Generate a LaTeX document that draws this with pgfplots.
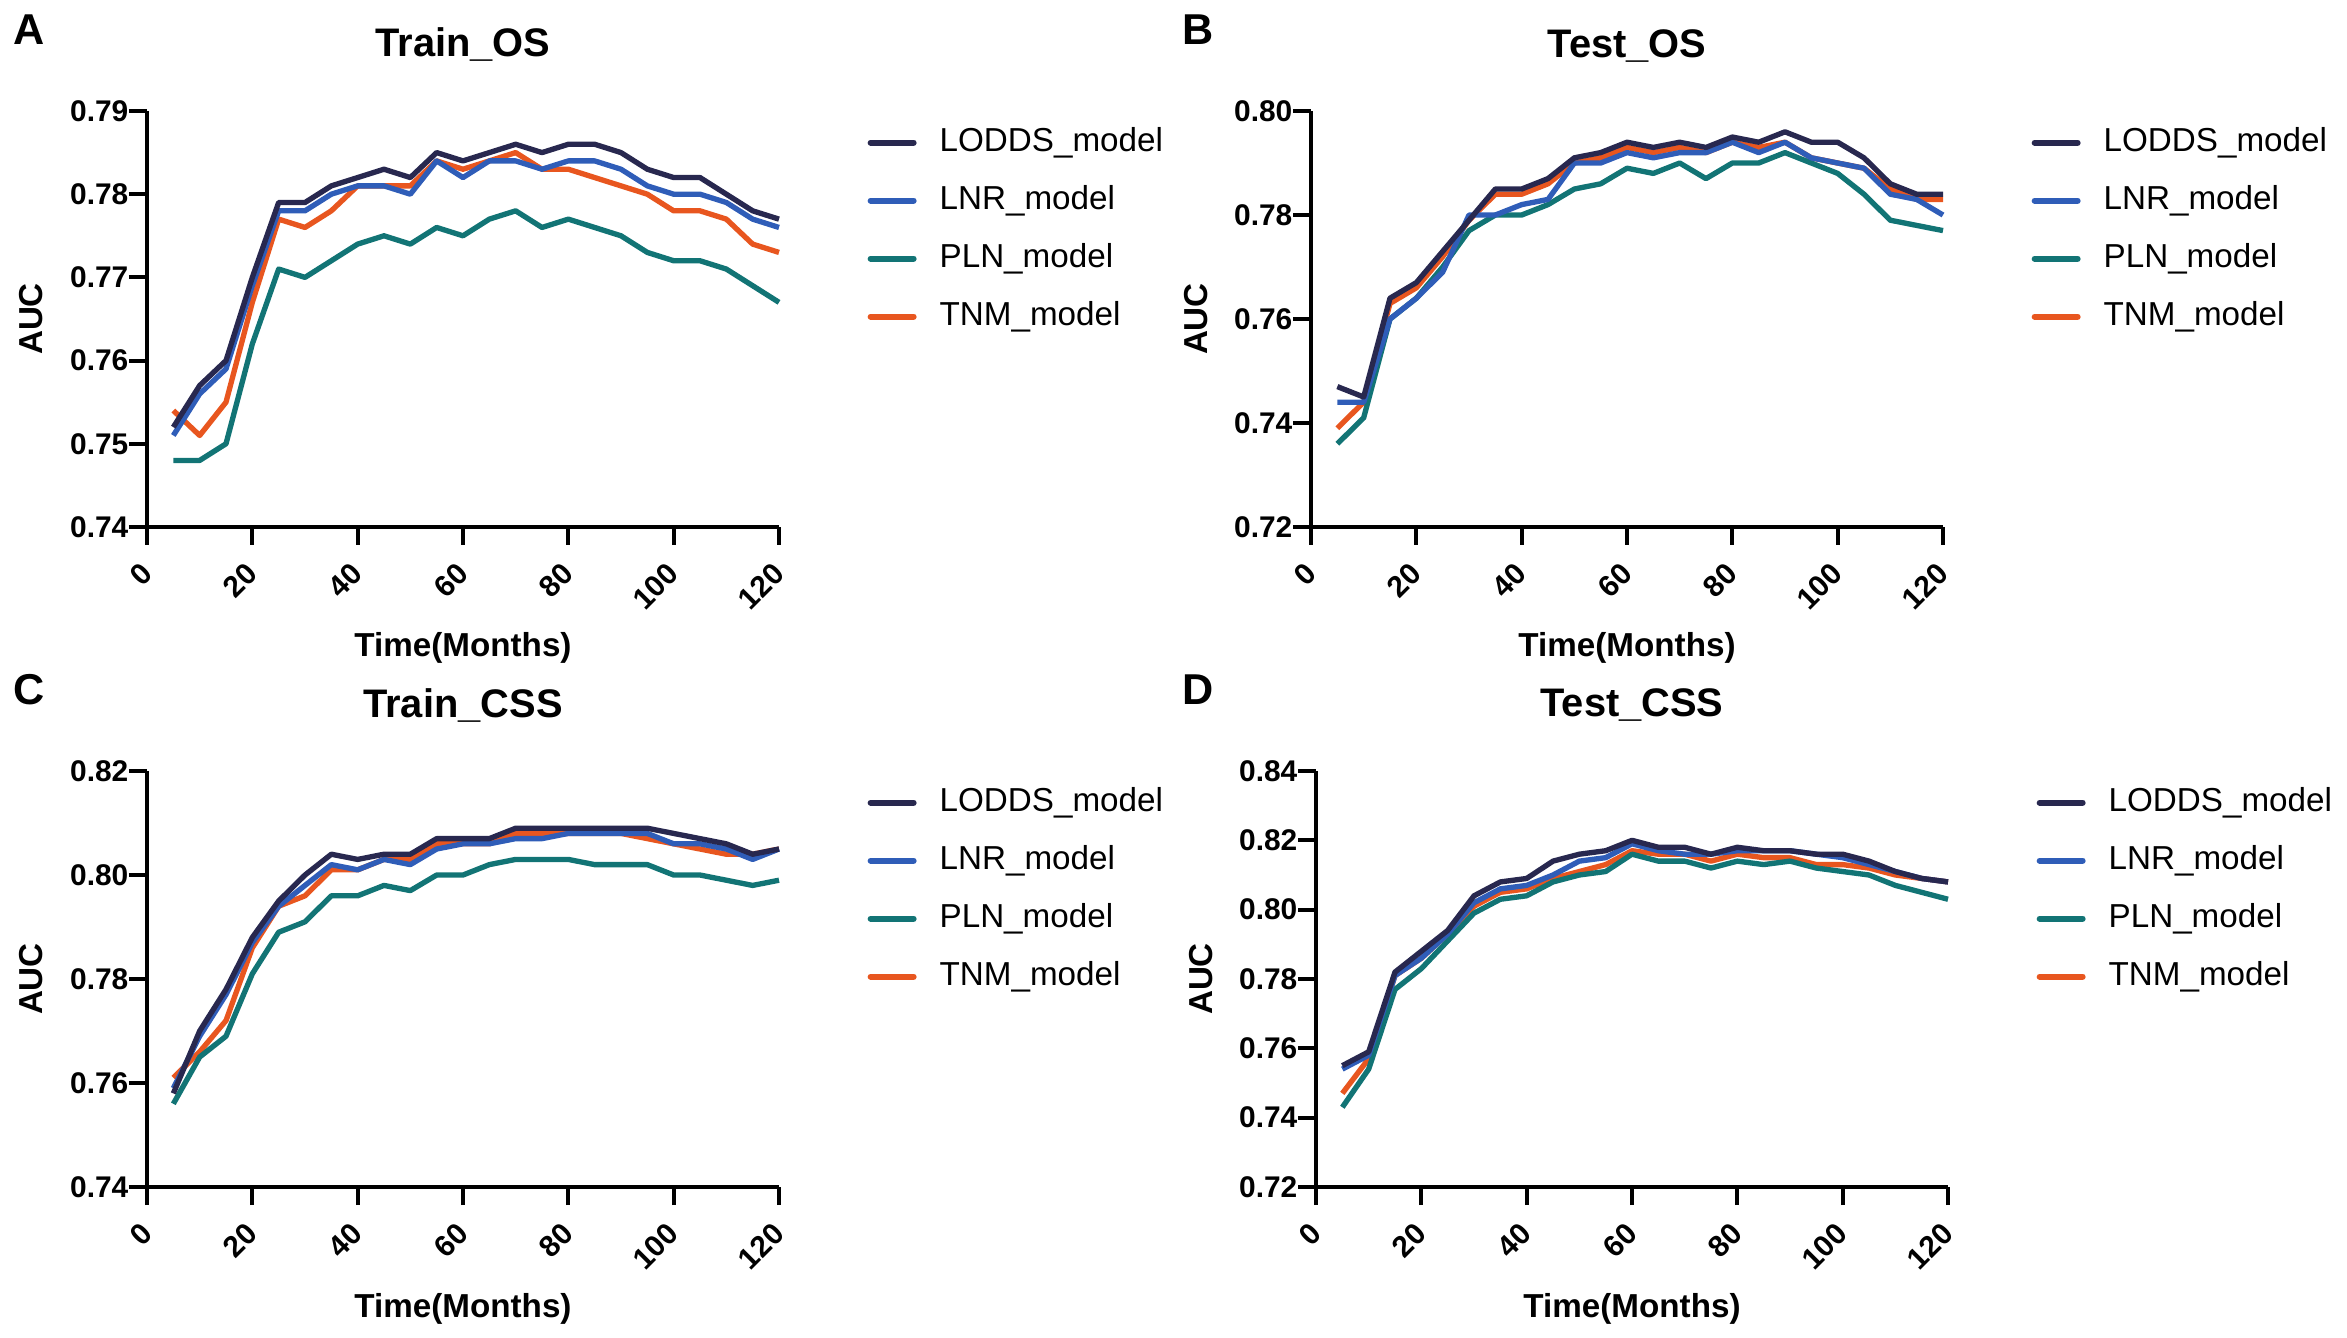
\documentclass[border=0pt]{standalone}
\usepackage{fontspec}
\setmainfont{Liberation Sans}
\usepackage{pgfplots}
\usepackage{pgfplotstable}
\pgfplotsset{compat=1.18}

\definecolor{loddsc}{HTML}{28284F}
\definecolor{lnrc}{HTML}{2F5DB8}
\definecolor{plnc}{HTML}{127475}
\definecolor{tnmc}{HTML}{E8561F}

% AUC by month, one table per panel
\pgfplotstableread{
t   lodds lnr   pln   tnm
5   0.752 0.751 0.748 0.754
10  0.757 0.756 0.748 0.751
15  0.760 0.759 0.750 0.755
20  0.770 0.769 0.762 0.767
25  0.779 0.778 0.771 0.777
30  0.779 0.778 0.770 0.776
35  0.781 0.780 0.772 0.778
40  0.782 0.781 0.774 0.781
45  0.783 0.781 0.775 0.781
50  0.782 0.780 0.774 0.781
55  0.785 0.784 0.776 0.784
60  0.784 0.782 0.775 0.783
65  0.785 0.784 0.777 0.784
70  0.786 0.784 0.778 0.785
75  0.785 0.783 0.776 0.783
80  0.786 0.784 0.777 0.783
85  0.786 0.784 0.776 0.782
90  0.785 0.783 0.775 0.781
95  0.783 0.781 0.773 0.780
100 0.782 0.780 0.772 0.778
105 0.782 0.780 0.772 0.778
110 0.780 0.779 0.771 0.777
115 0.778 0.777 0.769 0.774
120 0.777 0.776 0.767 0.773
}\trainos

\pgfplotstableread{
t   lodds lnr   pln   tnm
5   0.747 0.744 0.736 0.739
10  0.745 0.744 0.741 0.744
15  0.764 0.760 0.760 0.763
20  0.767 0.764 0.764 0.766
25  0.773 0.769 0.770 0.772
30  0.779 0.780 0.777 0.779
35  0.785 0.780 0.780 0.784
40  0.785 0.782 0.780 0.784
45  0.787 0.783 0.782 0.786
50  0.791 0.790 0.785 0.790
55  0.792 0.790 0.786 0.791
60  0.794 0.792 0.789 0.793
65  0.793 0.791 0.788 0.792
70  0.794 0.792 0.790 0.793
75  0.793 0.792 0.787 0.792
80  0.795 0.794 0.790 0.794
85  0.794 0.792 0.790 0.793
90  0.796 0.794 0.792 0.794
95  0.794 0.791 0.790 0.791
100 0.794 0.790 0.788 0.790
105 0.791 0.789 0.784 0.789
110 0.786 0.784 0.779 0.785
115 0.784 0.783 0.778 0.783
120 0.784 0.780 0.777 0.783
}\testos

\pgfplotstableread{
t   lodds lnr   pln   tnm
5   0.758 0.759 0.756 0.761
10  0.770 0.769 0.765 0.766
15  0.778 0.777 0.769 0.772
20  0.788 0.787 0.781 0.786
25  0.795 0.794 0.789 0.794
30  0.800 0.798 0.791 0.796
35  0.804 0.802 0.796 0.801
40  0.803 0.801 0.796 0.801
45  0.804 0.803 0.798 0.803
50  0.804 0.802 0.797 0.803
55  0.807 0.805 0.800 0.806
60  0.807 0.806 0.800 0.806
65  0.807 0.806 0.802 0.806
70  0.809 0.807 0.803 0.808
75  0.809 0.807 0.803 0.808
80  0.809 0.808 0.803 0.808
85  0.809 0.808 0.802 0.808
90  0.809 0.808 0.802 0.808
95  0.809 0.808 0.802 0.807
100 0.808 0.806 0.800 0.806
105 0.807 0.806 0.800 0.805
110 0.806 0.805 0.799 0.804
115 0.804 0.803 0.798 0.804
120 0.805 0.805 0.799 0.805
}\traincss

\pgfplotstableread{
t   lodds lnr   pln   tnm
5   0.755 0.754 0.743 0.747
10  0.759 0.758 0.754 0.757
15  0.782 0.781 0.777 0.781
20  0.788 0.786 0.783 0.786
25  0.794 0.793 0.791 0.793
30  0.804 0.802 0.799 0.801
35  0.808 0.806 0.803 0.805
40  0.809 0.807 0.804 0.806
45  0.814 0.810 0.808 0.809
50  0.816 0.814 0.810 0.811
55  0.817 0.815 0.811 0.813
60  0.820 0.819 0.816 0.817
65  0.818 0.817 0.814 0.816
70  0.818 0.816 0.814 0.816
75  0.816 0.816 0.812 0.814
80  0.818 0.817 0.814 0.816
85  0.817 0.817 0.813 0.815
90  0.817 0.817 0.814 0.815
95  0.816 0.816 0.812 0.813
100 0.816 0.815 0.811 0.813
105 0.814 0.813 0.810 0.812
110 0.811 0.811 0.807 0.810
115 0.809 0.809 0.805 0.809
120 0.808 0.808 0.803 0.808
}\testcss

\pgfplotsset{
  aucpanel/.style={
    scale only axis, width=189.6bp, height=124.8bp, anchor=south west,
    axis lines=left, axis line style={-, line width=1.2bp},
    tick align=outside, major tick length=5.4bp,
    tick style={black, line width=1.2bp},
    xmin=0, xmax=120, xtick={0,20,...,120},
    clip=false,
    ticklabel style={font=\fontsize{9}{10}\selectfont\bfseries},
    /pgf/number format/assume math mode=true,
    xticklabel shift=7bp,
    xticklabel style={rotate=45, anchor=east, inner sep=0pt},
    yticklabel style={inner sep=0pt, /pgf/number format/.cd, fixed, fixed zerofill, precision=2},
    every axis x label/.style={at={(axis description cs:0.5,0)}, anchor=base, yshift=-39bp,
      font=\fontsize{10}{12}\selectfont\bfseries},
    every axis y label/.style={at={(axis description cs:0,0.5)}, xshift=-31.2bp, rotate=90, anchor=base,
      font=\fontsize{10}{12}\selectfont\bfseries},
    every axis title/.style={at={(axis description cs:0.5,1)}, anchor=base, yshift=16.2bp,
      font=\fontsize{12}{14}\selectfont\bfseries},
    xlabel={Time(Months)}, ylabel={AUC},
    legend style={draw=none, fill=none, at={(axis description cs:1.1392,0.9655)}, anchor=north west,
      inner sep=0pt, font=\fontsize{10}{12}\selectfont, row sep=7.4bp,
      nodes={inner sep=0pt, text height=7.5bp, text depth=2.5bp},
      /tikz/every odd column/.append style={column sep=6.9bp}},
    legend cell align=left,
    reverse legend,
    legend image code/.code={\draw[##1, line width=1.8bp, line cap=round] (0.9bp,0bp) -- (13.8bp,0bp);},
  },
  ser/.style={line width=1.6bp, line join=round, no marks},
}

\newcommand{\fourlines}[1]{%
  \addplot[ser, tnmc] table[x=t, y=tnm] {#1}; \addlegendentry{TNM\_model}
  \addplot[ser, plnc] table[x=t, y=pln] {#1}; \addlegendentry{PLN\_model}
  \addplot[ser, lnrc] table[x=t, y=lnr] {#1}; \addlegendentry{LNR\_model}
  \addplot[ser, loddsc] table[x=t, y=lodds] {#1}; \addlegendentry{LODDS\_model}
}

\begin{document}
\begin{tikzpicture}
\useasboundingbox (0,0) rectangle (704.1bp,401.1bp);

\begin{axis}[aucpanel, at={(44.1bp,243bp)}, title={Train\_OS},
  ymin=0.74, ymax=0.79, ytick={0.74,0.75,0.76,0.77,0.78,0.79}]
\fourlines{\trainos}
\end{axis}

\begin{axis}[aucpanel, at={(393.3bp,243bp)}, title={Test\_OS},
  ymin=0.72, ymax=0.80, ytick={0.72,0.74,0.76,0.78,0.80}]
\fourlines{\testos}
\end{axis}

\begin{axis}[aucpanel, at={(44.1bp,45bp)}, title={Train\_CSS},
  ymin=0.74, ymax=0.82, ytick={0.74,0.76,0.78,0.80,0.82}]
\fourlines{\traincss}
\end{axis}

\begin{axis}[aucpanel, at={(394.8bp,45bp)}, title={Test\_CSS},
  ymin=0.72, ymax=0.84, ytick={0.72,0.74,0.76,0.78,0.80,0.82,0.84}]
\fourlines{\testcss}
\end{axis}

\begin{scope}[font=\fontsize{13}{15}\selectfont\bfseries]
\node[anchor=base] at (8.7bp,387.6bp) {A};
\node[anchor=base] at (359.4bp,387.6bp) {B};
\node[anchor=base] at (8.7bp,189.6bp) {C};
\node[anchor=base] at (359.4bp,189.6bp) {D};
\end{scope}
\end{tikzpicture}
\end{document}
